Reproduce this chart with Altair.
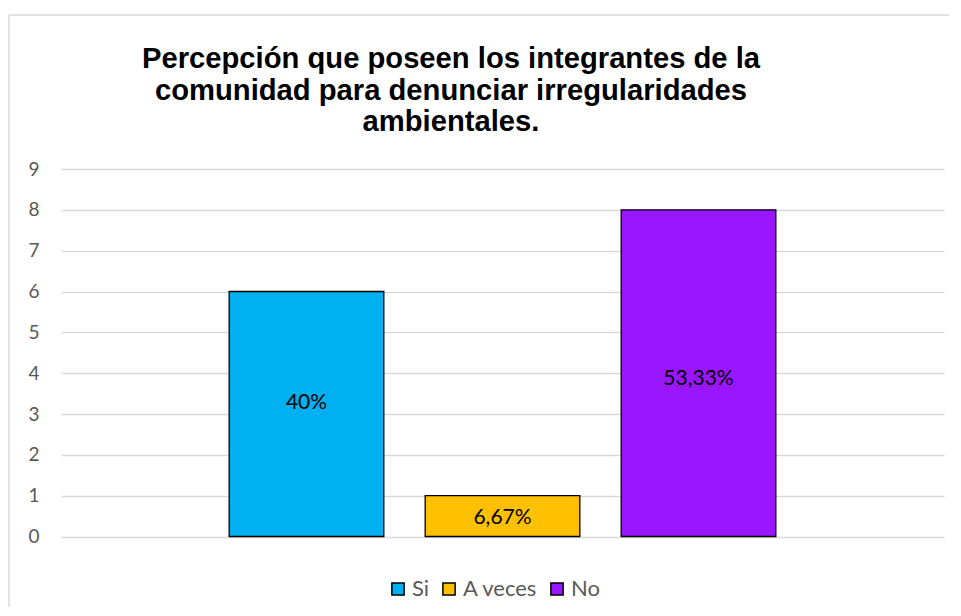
import altair as alt
import pandas as pd

categories = ["Si", "A veces", "No"]
values = [6, 1, 8]
labels = ["40%", "6,67%", "53,33%"]
label_pos = [3.28, 0.46, 3.86]
colors = ["#00B0F0", "#FFC000", "#9A16FF"]
title_lines = [
    "Percepción que poseen los integrantes de la",
    "comunidad para denunciar irregularidades",
    "ambientales.",
]
y_ticks = list(range(0, 10))

df = pd.DataFrame({"cat": categories, "val": values, "label": labels, "pos": label_pos})
dummy = pd.DataFrame({"a": [0]})

xscale = alt.Scale(domain=categories, paddingInner=0.211, paddingOuter=0.858)
x_enc = alt.X("cat:N", scale=xscale, axis=None, sort=categories)

bars = alt.Chart(df).mark_bar(stroke="black", strokeWidth=1.3).encode(
    x=x_enc,
    y=alt.Y(
        "val:Q",
        scale=alt.Scale(domain=[0, 9], nice=False),
        axis=alt.Axis(
            values=y_ticks,
            title=None,
            domain=False,
            ticks=False,
            tickSize=0,
            labelPadding=22,
            labelFont="Lato",
            labelFontSize=19,
            labelColor="#595959",
            gridColor="#D9D9D9",
            gridWidth=1.3,
        ),
    ),
    color=alt.Color(
        "cat:N",
        scale=alt.Scale(domain=categories, range=colors),
        sort=categories,
        legend=alt.Legend(
            title=None,
            orient="none",
            legendX=326,
            legendY=409,
            direction="horizontal",
            symbolType="square",
            symbolSize=150,
            symbolStrokeColor="black",
            symbolStrokeWidth=1.5,
            symbolOpacity=1,
            labelFont="Lato",
            labelFontSize=22,
            labelColor="#595959",
            labelOffset=3,
            columnPadding=8,
        ),
    ),
)

texts = alt.Chart(df).mark_text(
    font="Lato", fontSize=21, color="#000000", baseline="middle", align="center"
).encode(
    x=x_enc,
    y=alt.Y("pos:Q"),
    text="label:N",
)

title = alt.Chart(dummy).mark_text(
    text=title_lines,
    font="Liberation Sans",
    fontWeight="bold",
    fontSize=29.2,
    lineHeight=31.3,
    align="center",
    baseline="alphabetic",
    color="#000000",
).encode(x=alt.value(390), y=alt.value(-100.7))

border_top = alt.Chart(dummy).mark_rule(color="#D9D9D9", strokeWidth=1.5).encode(
    x=alt.value(-52), x2=alt.value(900), y=alt.value(-154)
)
border_left = alt.Chart(dummy).mark_rule(color="#D9D9D9", strokeWidth=1.5).encode(
    x=alt.value(-52), y=alt.value(-154), y2=alt.value(460)
)

chart = alt.layer(border_top, border_left, bars, texts, title).properties(
    width=883,
    height=367.5,
    autosize=alt.AutoSizeParams(type="none"),
    padding={"left": 53, "top": 161, "right": 5, "bottom": 70},
).configure(background="white").configure_view(strokeWidth=0)

chart.save("out.html", embed_options={"renderer": "svg", "actions": False})
